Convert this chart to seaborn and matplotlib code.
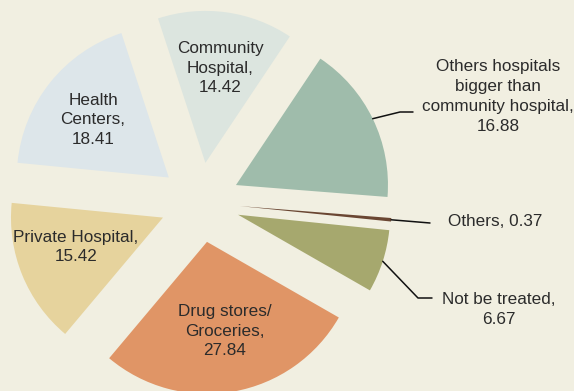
import numpy as np
import matplotlib
matplotlib.use("Agg")
import matplotlib.pyplot as plt
import seaborn as sns

categories = ["Others hospitals\nbigger than\ncommunity hospital", "Community\nHospital",
              "Health\nCenters", "Private Hospital", "Drug stores/\nGroceries",
              "Not be treated", "Others"]
values = [16.88, 14.42, 18.41, 15.42, 27.84, 6.67, 0.37]
value_labels = ["16.88", "14.42", "18.41", "15.42", "27.84", "6.67", "0.37"]
colors = ["#9fbcab", "#dce5df", "#dde6ea", "#e6d39d", "#e09566", "#a6a86e", "#6a4632"]

BG = "#f1efe1"
sns.set_theme(style="white", rc={"figure.facecolor": BG, "axes.facecolor": BG})
plt.rcParams["font.family"] = ["Liberation Sans", "DejaVu Sans"]

W, H = 574, 391
cx_px, cy_px, R = 200.0, 202.5, 152.0

def d(px, py):
    return ((px - cx_px) / R, (cy_px - py) / R)

fig = plt.figure(figsize=(W / 100, H / 100), dpi=100)
ax = fig.add_axes([0, 0, 1, 1])
ax.set_facecolor(BG)

explode = [0.263] * len(values)
wedges, _ = ax.pie(values, explode=explode, startangle=-4.5, counterclock=True,
                   colors=colors, radius=1.0, wedgeprops=dict(linewidth=0))

ax.set_xlim(-cx_px / R, (W - cx_px) / R)
ax.set_ylim(-(H - cy_px) / R, cy_px / R)
ax.set_aspect("auto")
ax.axis("off")

tc = "#2b2b2b"
fs = 12.3
LS = 1.39
# inside labels
inside = {1: (220, 68), 2: (93, 120), 3: (76, 247), 4: (225, 331)}
for i, (px, py) in inside.items():
    x, y = d(px, py)
    ax.text(x, y, f"{categories[i]},\n{value_labels[i]}", ha="center", va="center",
            fontsize=fs, color=tc, linespacing=LS)

def arc_point(i):
    w = wedges[i]
    ang = np.deg2rad((w.theta1 + w.theta2) / 2)
    c = w.center
    return (c[0] + w.r * np.cos(ang), c[1] + w.r * np.sin(ang))

# outside labels with leader lines
# Others hospitals
p0 = arc_point(0)
e1 = d(400, 112); e2 = d(413, 112)
ax.plot([p0[0], e1[0], e2[0]], [p0[1], e1[1], e2[1]], color="#111111", lw=1.1)
x, y = d(498, 96.5)
ax.text(x, y, f"{categories[0]},\n{value_labels[0]}", ha="center", va="center",
        fontsize=fs, color=tc, linespacing=LS)

# Others
p6 = arc_point(6)
e1 = d(430, 223)
ax.plot([p6[0], e1[0]], [p6[1], e1[1]], color="#111111", lw=1.1)
x, y = d(495.5, 222)
ax.text(x, y, f"{categories[6]}, {value_labels[6]}", ha="center", va="center",
        fontsize=fs, color=tc)

# Not be treated
p5 = arc_point(5)
e1 = d(418, 298); e2 = d(432, 298)
ax.plot([p5[0], e1[0], e2[0]], [p5[1], e1[1], e2[1]], color="#111111", lw=1.1)
x, y = d(498.5, 309.5)
ax.text(x, y, f"{categories[5]},\n{value_labels[5]}", ha="center", va="center",
        fontsize=fs, color=tc, linespacing=LS)

fig.savefig("out.png", dpi=100, facecolor=BG)
